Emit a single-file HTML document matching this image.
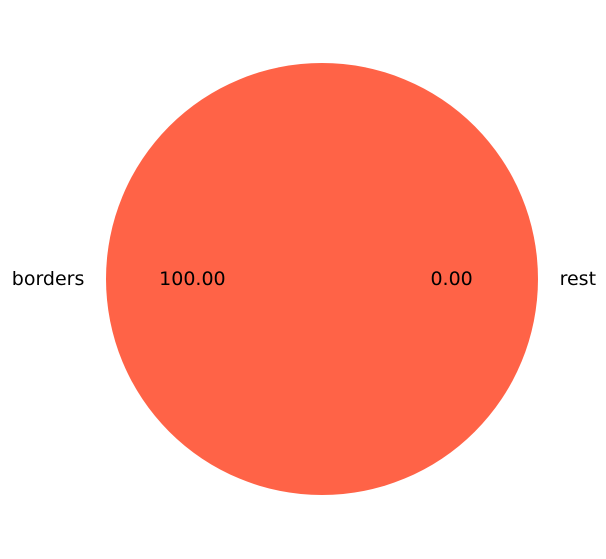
<!DOCTYPE html>
<html>
<head>
<meta charset="utf-8">
<style>
  html,body{margin:0;padding:0;background:#fff;}
  svg{display:block;}
  text{font-family:"DejaVu Sans","Liberation Sans",sans-serif;font-size:19px;fill:#000;}
</style>
</head>
<body>
<svg id="chart" width="606" height="559" viewBox="0 0 606 559"></svg>
<script>
const categories = ['borders', 'rest'];
const values = [100, 0];
const pctLabels = ['100.00', '0.00'];
const colors = ['#ff6347', '#ff6347'];

const svg = document.getElementById('chart');
const NS = 'http://www.w3.org/2000/svg';
const cx = 322, cy = 279, r = 216;
const total = values.reduce((a, b) => a + b, 0);
let start = 0;
function pt(angDeg, rad) {
  const a = angDeg * Math.PI / 180;
  return [cx + rad * Math.cos(a), cy - rad * Math.sin(a)];
}
values.forEach((v, i) => {
  const sweep = total ? v / total * 360 : 0;
  const end = start + sweep;
  if (sweep >= 359.999) {
    const c = document.createElementNS(NS, 'circle');
    c.setAttribute('cx', cx); c.setAttribute('cy', cy); c.setAttribute('r', r);
    c.setAttribute('fill', colors[i]);
    
    
    svg.appendChild(c);
  } else if (sweep > 0) {
    const [x1, y1] = pt(start, r), [x2, y2] = pt(end, r);
    const p = document.createElementNS(NS, 'path');
    p.setAttribute('d', `M${cx},${cy} L${x1},${y1} A${r},${r} 0 ${sweep > 180 ? 1 : 0} 0 ${x2},${y2} Z`);
    p.setAttribute('fill', colors[i]);
    
    
    svg.appendChild(p);
  }
  const mid = start + sweep / 2;
  const [lx, ly] = pt(mid, r * 1.1);
  const t = document.createElementNS(NS, 'text');
  t.setAttribute('x', lx); t.setAttribute('y', ly);
  t.setAttribute('dominant-baseline', 'central');
  t.setAttribute('text-anchor', Math.cos(mid * Math.PI / 180) < 0 ? 'end' : 'start');
  t.textContent = categories[i];
  
  
  svg.appendChild(t);
  const [px, py] = pt(mid, r * 0.6);
  const pt2 = document.createElementNS(NS, 'text');
  pt2.setAttribute('x', px); pt2.setAttribute('y', py);
  pt2.setAttribute('dominant-baseline', 'central');
  pt2.setAttribute('text-anchor', 'middle');
  pt2.textContent = pctLabels[i];
  
  
  svg.appendChild(pt2);
  start = end;
});
</script>
</body>
</html>
